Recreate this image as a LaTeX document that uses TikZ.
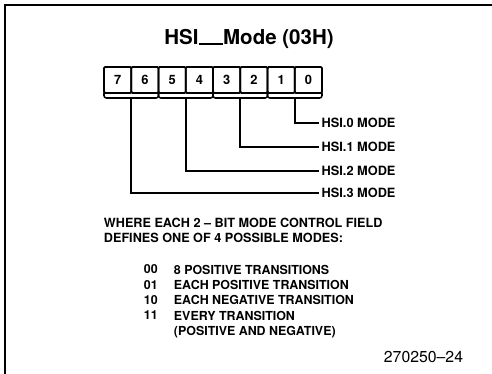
\documentclass[tikz,border=0pt]{standalone}
\usepackage{fontspec}
\setmainfont{TeX Gyre Heros}
\usetikzlibrary{positioning}

\begin{document}
\begin{tikzpicture}[x=0.03cm,y=-0.03cm,line width=1.6pt,
  bit/.style={draw,rounded corners=1pt,outer sep=0pt,inner sep=0pt,minimum width=0.8175cm,minimum height=0.78cm,font=\bfseries\fontsize{11}{13}\selectfont},
  mode/.style={anchor=west,inner sep=1.5pt,font=\bfseries\fontsize{10.9}{13}\selectfont},
  note/.style={anchor=north west,inner sep=0pt,align=left,font=\bfseries\fontsize{10.8}{12.8}\selectfont}]
\useasboundingbox (0,0) rectangle (492,374);
\draw[line width=1.7pt] (5,374) -- (5,5) -- (492,5);
\node[anchor=base,inner sep=0pt,font=\bfseries\fontsize{17.5}{20}\selectfont] (title) at (249,45) {HSI\kern0.5pt\rule{20pt}{1.8pt}\kern0.5ptMode (03H)};
% register
\node[bit] (b7) at (117.625,80) {7};
\node[bit,right=0pt of b7] (b6) {6};
\node[bit,right=0pt of b6] (b5) {5};
\node[bit,right=0pt of b5] (b4) {4};
\node[bit,right=0pt of b4] (b3) {3};
\node[bit,right=0pt of b3] (b2) {2};
\node[bit,right=0pt of b2] (b1) {1};
\node[bit,right=0pt of b1] (b0) {0};
\coordinate (f3) at (131.25,98);
\coordinate (f2) at (185.75,98);
\coordinate (f1) at (240.25,98);
\coordinate (f0) at (294.75,98);
\draw[rounded corners=2pt,line width=1.3pt] (b7.south west) |- (f3) -| (b6.south east);
\draw[rounded corners=2pt,line width=1.3pt] (b5.south west) |- (f2) -| (b4.south east);
\draw[rounded corners=2pt,line width=1.3pt] (b3.south west) |- (f1) -| (b2.south east);
\draw[rounded corners=2pt,line width=1.3pt] (b1.south west) |- (f0) -| (b0.south east);
% fields
\node[mode] (m0) at (319,123) {HSI.0 MODE};
\node[mode] (m1) at (319,147) {HSI.1 MODE};
\node[mode] (m2) at (319,171) {HSI.2 MODE};
\node[mode] (m3) at (319,193) {HSI.3 MODE};
\draw (f0) |- (m0);
\draw (f1) |- (m1);
\draw (f2) |- (m2);
\draw (f3) |- (m3);
% modes
\node[note] (where) at (103,217) {WHERE EACH 2 -- BIT MODE CONTROL FIELD\\DEFINES ONE OF 4 POSSIBLE MODES:};
\node[note,font=\bfseries\fontsize{10.6}{13.1}\selectfont] (codes) at (143,264) {00\\01\\10\\11};
\node[note,font=\bfseries\fontsize{10.6}{13.1}\selectfont] (meanings) at (173,264) {8 POSITIVE TRANSITIONS\\EACH POSITIVE TRANSITION\\EACH NEGATIVE TRANSITION\\EVERY TRANSITION\\(POSITIVE AND NEGATIVE)};
\node[anchor=north west,inner sep=0pt,font=\fontsize{13.5}{15}\selectfont] (fig) at (383,350) {270250--24};
\end{tikzpicture}
\end{document}
